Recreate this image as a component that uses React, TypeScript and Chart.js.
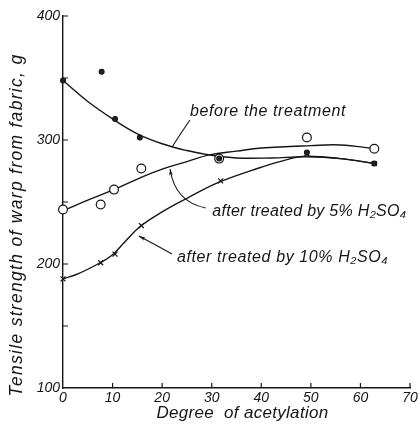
import React, { useEffect, useRef } from "react";
import { Chart, registerables } from "chart.js";

Chart.register(...registerables);

// ---- data ----
const X_TICKS = [0, 10, 20, 30, 40, 50, 60, 70];
const Y_TICKS = [100, 200, 300, 400];
const Y_MINOR_TICKS = [150, 200, 250, 300, 350, 400];

// measured points
const BEFORE_X = [0, 7.8, 10.5, 15.5, 31.5, 49.2, 62.8];
const BEFORE_Y = [348, 355, 317, 302, 285, 290, 281];
const H5_X = [0, 7.6, 10.3, 15.8, 31.5, 49.2, 62.8];
const H5_Y = [244, 248, 260, 277, 285, 302, 293];
const H10_X = [0, 7.6, 10.5, 15.8, 31.8, 49.2, 62.8];
const H10_Y = [188, 201, 208, 231, 267, 289, 281];

// fitted curves
const BEFORE_CURVE_X = [0, 5, 10, 15, 20, 25, 29.5, 35, 42, 49, 56, 63];
const BEFORE_CURVE_Y = [348, 331, 317, 305, 297, 291.5, 288, 285.5, 285.5, 286.5, 285, 281];
const H5_CURVE_X = [0, 5, 10, 15, 20, 25, 29.5, 35, 40, 50, 56, 63];
const H5_CURVE_Y = [243, 251.5, 259.5, 268.5, 276.5, 282.5, 288, 291, 293.5, 295.5, 296, 293];
const H10_CURVE_X = [0, 3, 7.5, 10, 12.5, 15.5, 20, 25, 31.5, 40, 45, 49, 56, 63];
const H10_CURVE_Y = [188, 192, 201, 207.5, 218, 230, 242, 253, 266, 278, 284, 287, 285, 281];

const LABEL_TEXTS = ["before the treatment", "after treated by 5% H\u2082SO\u2084", "after treated by 10% H\u2082SO\u2084"];
// label anchors (left edge, middle) in data units
const LABEL_X = [25.6, 30.1, 23.0];
const LABEL_Y = [322.6, 241.9, 205.6];
// leader lines: start, control, end(tip) in data units
const LEADER_START_X = [25.6, 28.8, 22.0];
const LEADER_START_Y = [316.1, 245.2, 208.1];
const LEADER_CTRL_X = [23.8, 22.6, 18.0];
const LEADER_CTRL_Y = [305.6, 250.0, 216.9];
const LEADER_TIP_X = [22.0, 21.6, 15.3];
const LEADER_TIP_Y = [294.4, 276.6, 222.6];
const LEADER_ARROW = [false, true, true];

const X_TITLE = "Degree  of acetylation";
const Y_TITLE = "Tensile strength of warp from fabric, g";

const INK = "#151515";
const FONT = "'Liberation Sans', Arial, sans-serif";

const pts = (xs: number[], ys: number[]) => xs.map((x, i) => ({ x, y: ys[i] }));

const overlay = {
  id: "overlay",
  afterDraw(chart: any) {
    const { ctx, chartArea } = chart;
    const { left, right, top, bottom } = chartArea;
    const xs = chart.scales.x;
    const ys = chart.scales.y;
    ctx.save();
    ctx.strokeStyle = INK;
    ctx.fillStyle = INK;
    ctx.lineWidth = 1.2;
    // inward ticks
    ctx.beginPath();
    X_TICKS.forEach((v) => {
      if (v === 0) return;
      const px = xs.getPixelForValue(v);
      ctx.moveTo(px, bottom);
      ctx.lineTo(px, bottom - 5);
    });
    Y_MINOR_TICKS.forEach((v) => {
      const py = ys.getPixelForValue(v);
      ctx.moveTo(left, py);
      ctx.lineTo(left + 5, py);
    });
    ctx.stroke();

    // leaders
    ctx.lineWidth = 1.1;
    LEADER_TIP_X.forEach((_, i) => {
      const sx = xs.getPixelForValue(LEADER_START_X[i]);
      const sy = ys.getPixelForValue(LEADER_START_Y[i]);
      const cx = xs.getPixelForValue(LEADER_CTRL_X[i]);
      const cy = ys.getPixelForValue(LEADER_CTRL_Y[i]);
      const tx = xs.getPixelForValue(LEADER_TIP_X[i]);
      const ty = ys.getPixelForValue(LEADER_TIP_Y[i]);
      ctx.beginPath();
      ctx.moveTo(sx, sy);
      ctx.quadraticCurveTo(cx, cy, tx, ty);
      ctx.stroke();
      if (LEADER_ARROW[i]) {
        const a = Math.atan2(ty - cy, tx - cx);
        const L = 7;
        const w = 0.28;
        ctx.beginPath();
        ctx.moveTo(tx, ty);
        ctx.lineTo(tx - L * Math.cos(a - w), ty - L * Math.sin(a - w));
        ctx.lineTo(tx - L * 0.7 * Math.cos(a), ty - L * 0.7 * Math.sin(a));
        ctx.lineTo(tx - L * Math.cos(a + w), ty - L * Math.sin(a + w));
        ctx.closePath();
        ctx.fill();
      }
    });

    // labels
    ctx.font = `italic 16px ${FONT}`;
    ctx.textBaseline = "middle";
    ctx.textAlign = "left";
    const spacing = ["0.6px", "0.3px", "0.6px"];
    LABEL_TEXTS.forEach((t, i) => {
      (ctx as any).letterSpacing = spacing[i];
      ctx.fillText(t, xs.getPixelForValue(LABEL_X[i]), ys.getPixelForValue(LABEL_Y[i]));
    });

    // axis titles
    ctx.font = `italic 17px ${FONT}`;
    (ctx as any).letterSpacing = "0.3px";
    ctx.textAlign = "center";
    ctx.fillText(X_TITLE, (left + right) / 2 + 6, bottom + 25);
    (ctx as any).letterSpacing = "1.3px";
    ctx.font = `italic 17.5px ${FONT}`;
    ctx.save();
    ctx.translate(left - 46, (top + bottom) / 2 + 23);
    ctx.rotate(-Math.PI / 2);
    ctx.fillText(Y_TITLE, 0, 0);
    ctx.restore();
    ctx.restore();
  },
};

export default function App() {
  const ref = useRef<HTMLCanvasElement | null>(null);
  useEffect(() => {
    document.body.style.margin = "0";
    const canvas = ref.current;
    if (!canvas) return;
    const tickFont = { family: FONT, size: 14, style: "italic" as const };
    const curve = (xs: number[], ys: number[]) => ({
      data: pts(xs, ys),
      showLine: true,
      borderColor: INK,
      borderWidth: 1.4,
      pointRadius: 0,
      tension: 0.4,
      fill: false,
      clip: false,
    });
    const chart = new Chart(canvas, {
      type: "scatter",
      data: {
        datasets: [
          {
            data: pts(BEFORE_X, BEFORE_Y),
            pointStyle: "circle",
            pointRadius: 2.4,
            backgroundColor: "#222",
            borderColor: INK,
            borderWidth: 1.2,
            clip: false,
          },
          {
            data: pts(H5_X, H5_Y),
            pointStyle: "circle",
            pointRadius: 4.4,
            backgroundColor: "#fff",
            borderColor: INK,
            borderWidth: 1.2,
            clip: false,
          },
          {
            data: pts(H10_X, H10_Y),
            pointStyle: "crossRot",
            pointRadius: 3.5,
            borderColor: INK,
            borderWidth: 1.2,
            clip: false,
          },
          curve(BEFORE_CURVE_X, BEFORE_CURVE_Y),
          curve(H5_CURVE_X, H5_CURVE_Y),
          curve(H10_CURVE_X, H10_CURVE_Y),
        ] as any,
      },
      options: {
        responsive: false,
        animation: false,
        devicePixelRatio: 1,
        layout: { padding: { left: 0, right: 10, top: 16, bottom: 0 } },
        plugins: { legend: { display: false }, tooltip: { enabled: false } },
        scales: {
          x: {
            type: "linear",
            min: 0,
            max: 70,
            afterBuildTicks: (s: any) => {
              s.ticks = X_TICKS.map((v) => ({ value: v }));
            },
            afterFit: (s: any) => {
              s.height = 41;
            },
            ticks: { font: tickFont, color: INK, padding: 2, maxRotation: 0, autoSkip: false },
            grid: { display: true, drawOnChartArea: false, drawTicks: false },
            border: { display: true, color: INK, width: 1.4 },
          },
          y: {
            type: "linear",
            min: 100,
            max: 400,
            afterBuildTicks: (s: any) => {
              s.ticks = Y_TICKS.map((v) => ({ value: v }));
            },
            afterFit: (s: any) => {
              s.width = 63;
            },
            ticks: { font: tickFont, color: INK, padding: 3 },
            grid: { display: true, drawOnChartArea: false, drawTicks: false },
            border: { display: true, color: INK, width: 1.4 },
          },
        },
      },
      plugins: [overlay],
    });
    return () => chart.destroy();
  }, []);
  return (
    <div style={{ width: 420, height: 429, background: "#fff" }}>
      <canvas ref={ref} width={420} height={429} />
    </div>
  );
}
